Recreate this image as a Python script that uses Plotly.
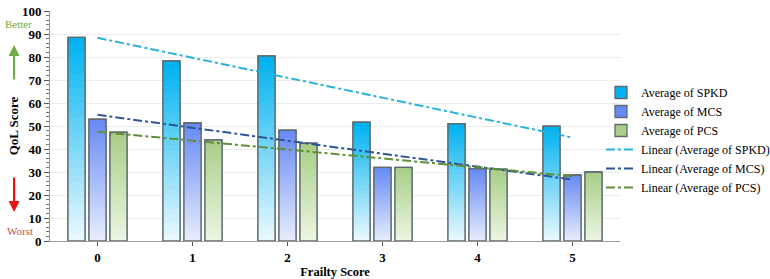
import numpy as np
import plotly.graph_objects as go

categories = ["0", "1", "2", "3", "4", "5"]
spkd = [88.5, 78.3, 80.5, 51.7, 51.0, 49.9]
mcs = [53.0, 51.3, 48.2, 32.0, 31.5, 28.7]
pcs = [47.3, 44.0, 42.5, 32.0, 31.2, 30.0]
y_ticks = list(range(0, 101, 10))

series = [
    ("Average of SPKD", spkd, (0, 178, 240), (232, 248, 254), "#2ab2d8"),
    ("Average of MCS", mcs, (104, 138, 244), (230, 236, 253), "#2f5597"),
    ("Average of PCS", pcs, (168, 206, 136), (236, 245, 226), "#5f8f38"),
]

FONT = "Liberation Serif, Times New Roman, serif"
N = 28
fig = go.Figure()


def mix(c1, c2, t):
    return "rgb(%d,%d,%d)" % tuple(round(a + (b - a) * t) for a, b in zip(c1, c2))


for gi, (name, vals, top, bot, _) in enumerate(series):
    v = np.array(vals, dtype=float)
    for k in range(N):
        t = k / (N - 1)
        fig.add_trace(go.Bar(
            x=categories, y=v * (1 - k / N), offsetgroup=str(gi + 1),
            marker=dict(color=mix(top, bot, t),
                        line=dict(color="#5d6b70", width=1.3) if k == 0 else dict(width=0)),
            name=name, showlegend=(k == 0), legendrank=gi + 1, hoverinfo="skip",
        ))
    fig.add_trace(go.Bar(
        x=categories, y=v, offsetgroup=str(gi + 1),
        marker=dict(color="rgba(0,0,0,0)", line=dict(color="#5d6b70", width=1.3)),
        showlegend=False, hoverinfo="skip",
    ))

xs = np.arange(len(categories))
for gi, (name, vals, top, bot, lc) in enumerate(series):
    m, b = np.polyfit(xs, np.array(vals, dtype=float), 1)
    fig.add_trace(go.Scatter(
        x=categories, y=m * xs + b, mode="lines",
        line=dict(color=lc, width=2, dash="dashdot"),
        name="Linear (%s)" % name, legendrank=4 + gi, hoverinfo="skip",
    ))

fig.update_layout(
    width=770, height=279,
    margin=dict(l=50, r=150, t=11, b=38, autoexpand=False),
    plot_bgcolor="white", paper_bgcolor="white",
    barmode="group", bargap=0.337, bargroupgap=0.19,
    font=dict(family=FONT, color="black"),
    legend=dict(xref="container", yref="container",
                x=601 / 770, y=1 - 78 / 279, xanchor="left", yanchor="top",
                font=dict(family=FONT, size=12), itemwidth=30,
                tracegroupgap=0, bgcolor="rgba(0,0,0,0)"),
    showlegend=True,
)
fig.update_xaxes(
    type="category", showline=True, linecolor="#9a9a9a", linewidth=1,
    ticks="outside", ticklen=4, tickcolor="#555", automargin=False,
    tickfont=dict(family=FONT, size=13, color="black", weight="bold"),
    title=dict(text="<b>Frailty Score</b>", font=dict(family=FONT, size=12.5), standoff=6),
    showgrid=False,
)
fig.update_yaxes(
    range=[0, 100], tickvals=y_ticks, showline=True, linecolor="#9a9a9a", linewidth=1,
    ticks="outside", ticklen=5, tickcolor="#555", automargin=False,
    minor=dict(dtick=2, ticks="outside", ticklen=3, tickcolor="#777", showgrid=False),
    tickfont=dict(family=FONT, size=13, color="black", weight="bold"),
    title=dict(text="<b>QoL Score</b>", font=dict(family=FONT, size=13), standoff=0),
    showgrid=True, gridcolor="#ececec", gridwidth=1, zeroline=False,
)

fig.add_annotation(xref="paper", yref="paper", x=(3 - 50) / 570, y=(241 - 24) / 230,
                   xanchor="left", yanchor="middle",
                   text="Better", showarrow=False,
                   font=dict(family=FONT, size=11, color="#70ad47"))
fig.add_annotation(xref="paper", yref="paper", x=-0.063, y=(241 - 45) / 230,
                   ax=0, ay=36, text="", showarrow=True, arrowhead=2, arrowsize=1,
                   arrowwidth=2.2, arrowcolor="#70ad47")
fig.add_annotation(xref="paper", yref="paper", x=-0.063, y=(241 - 212) / 230,
                   ax=0, ay=-36, text="", showarrow=True, arrowhead=2, arrowsize=1,
                   arrowwidth=2.2, arrowcolor="#ee1111")
fig.add_annotation(xref="paper", yref="paper", x=(5 - 50) / 570, y=(241 - 231) / 230,
                   xanchor="left", yanchor="middle",
                   text="Worst", showarrow=False,
                   font=dict(family=FONT, size=11, color="#c0504d"))

fig.write_html("out.html")
